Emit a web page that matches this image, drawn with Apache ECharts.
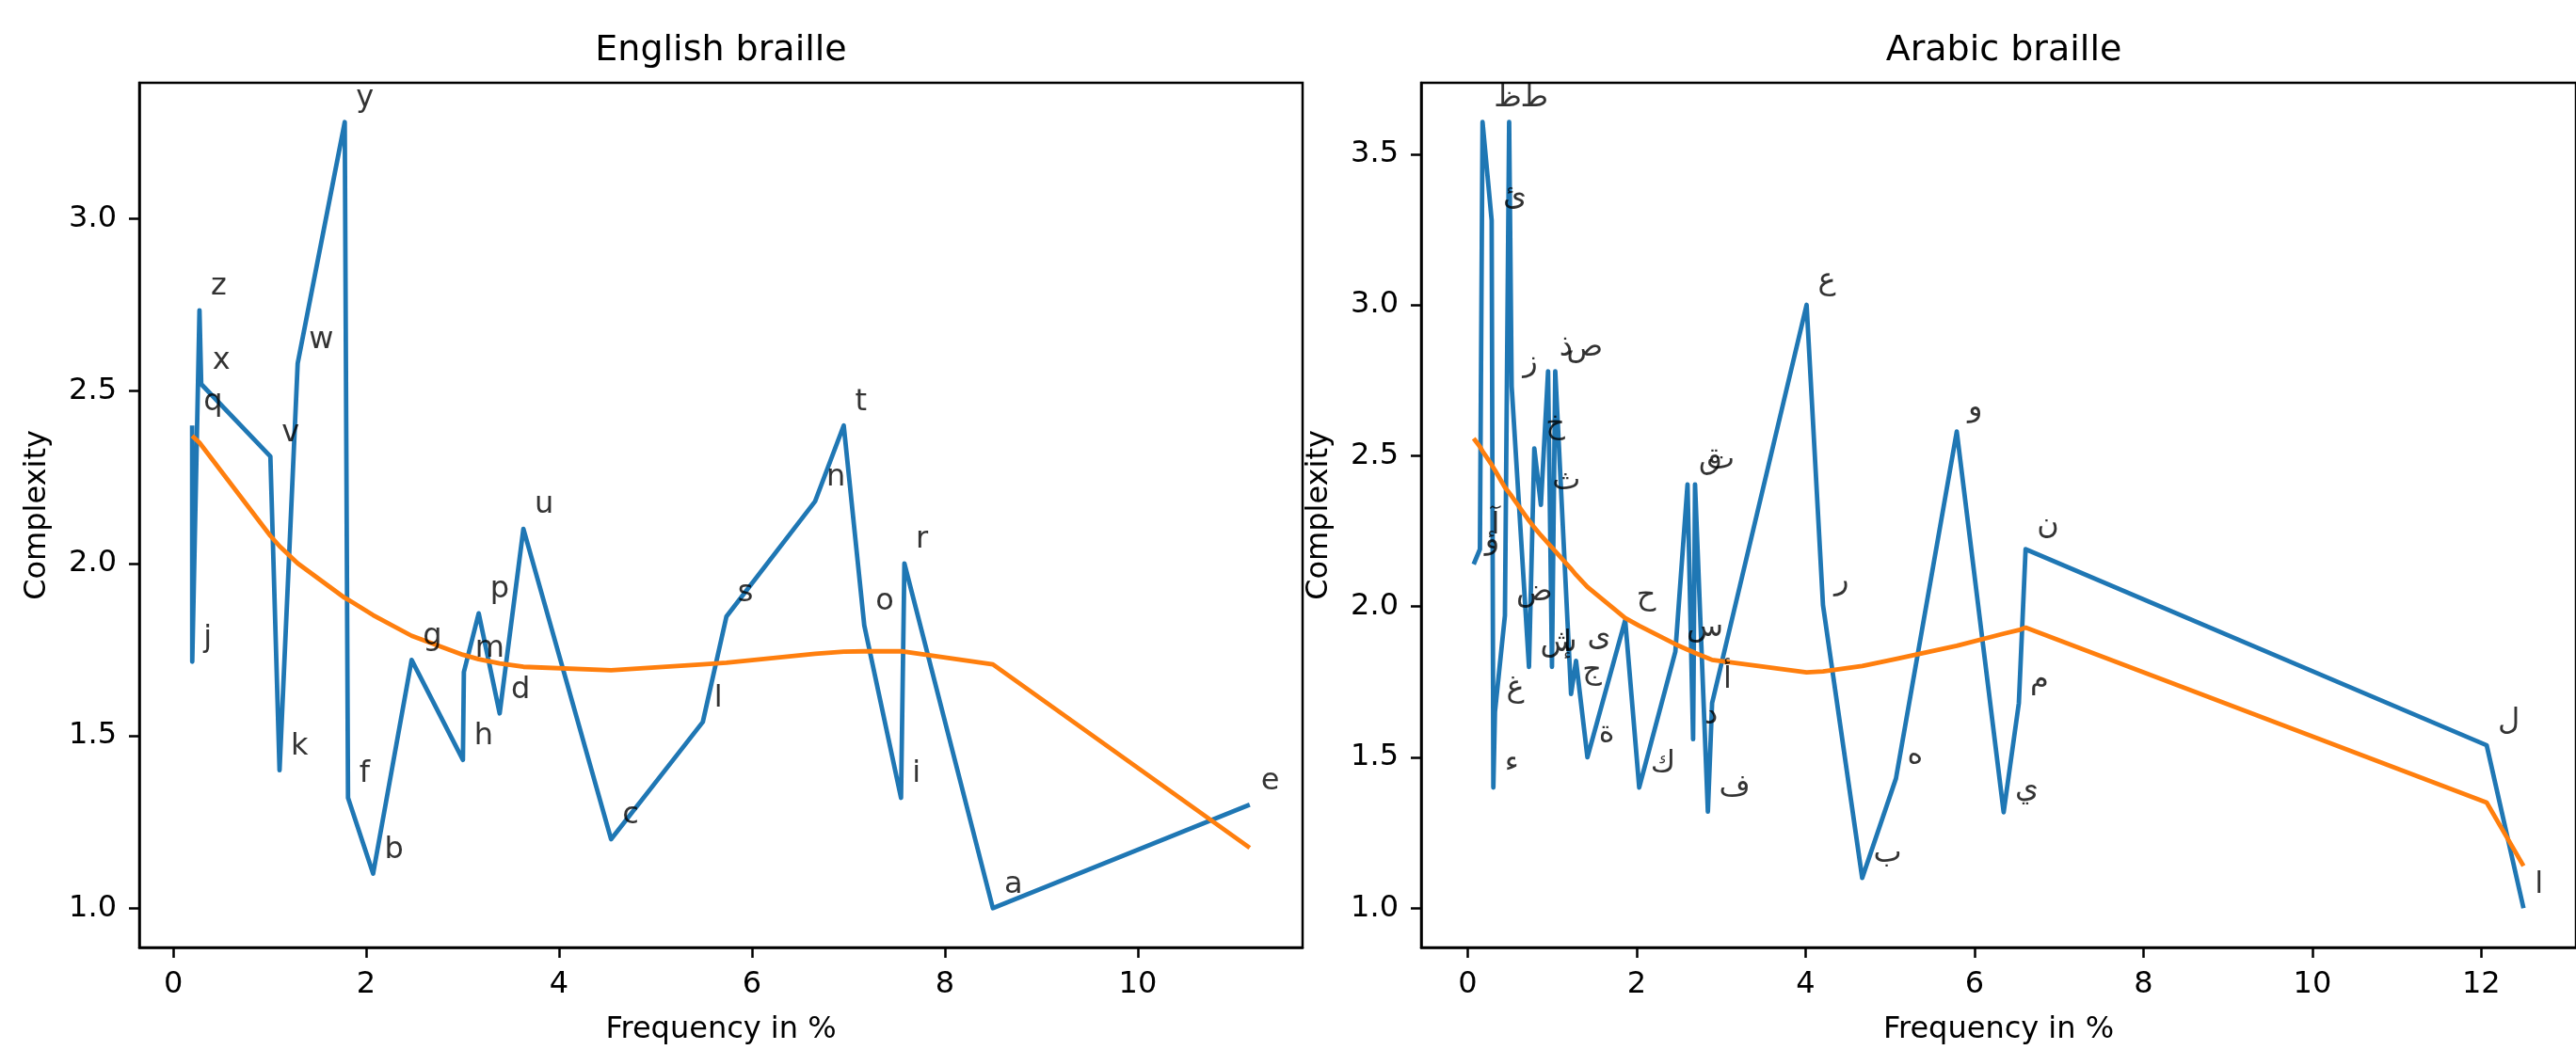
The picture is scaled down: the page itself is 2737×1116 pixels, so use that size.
<!DOCTYPE html>
<html>
<head>
<meta charset="utf-8">
<script src="https://cdn.jsdelivr.net/npm/echarts@6/dist/echarts.min.js"></script>
<style>
  html, body { margin: 0; padding: 0; background: #fff; }
  #chart { width: 2737px; height: 1116px; }
</style>
</head>
<body>
<div id="chart"></div>
<script>
  // English braille: letters sorted by frequency
  const enLetters = ['q', 'j', 'z', 'x', 'v', 'k', 'w', 'y', 'f', 'b', 'g', 'h', 'm', 'p', 'd', 'u', 'c', 'l', 's', 'n', 't', 'o', 'i', 'r', 'a', 'e']
  const enFreq = [0.196, 0.197, 0.272, 0.290, 1.007, 1.102, 1.290, 1.778, 1.812, 2.072, 2.471, 3.003, 3.013, 3.167, 3.384, 3.630, 4.539, 5.490, 5.735, 6.654, 6.951, 7.164, 7.545, 7.580, 8.497, 11.160]
  const enComplexity = [2.40, 1.715, 2.734, 2.52, 2.31, 1.40, 2.58, 3.28, 1.32, 1.10, 1.72, 1.43, 1.685, 1.855, 1.565, 2.10, 1.20, 1.54, 1.846, 2.18, 2.40, 1.82, 1.32, 2.00, 1.00, 1.30]
  const enTrend = [2.37, 2.37, 2.35, 2.345, 2.08, 2.05, 2.00, 1.90, 1.895, 1.85, 1.79, 1.735, 1.734, 1.722, 1.71, 1.70, 1.69, 1.707, 1.712, 1.738, 1.744, 1.745, 1.745, 1.744, 1.707, 1.175]

  // Arabic braille
  const arLetters = ['ؤ', 'آ', 'ظ', 'ئ', 'ء', 'غ', 'ض', 'ط', 'ز', 'ش', 'خ', 'ث', 'ذ', 'إ', 'ص', 'ج', 'ى', 'ة', 'ح', 'ك', 'س', 'ق', 'د', 'ت', 'ف', 'أ', 'ع', 'ر', 'ب', 'ه', 'و', 'ي', 'م', 'ن', 'ل', 'ا']
  const arFreq = [0.07, 0.144, 0.175, 0.283, 0.303, 0.322, 0.44, 0.49, 0.52, 0.725, 0.788, 0.866, 0.951, 0.997, 1.036, 1.223, 1.282, 1.417, 1.864, 2.03, 2.458, 2.602, 2.668, 2.691, 2.843, 2.893, 4.012, 4.206, 4.67, 5.07, 5.79, 6.345, 6.525, 6.605, 12.064, 12.50]
  const arComplexity = [2.14, 2.19, 3.606, 3.28, 1.40, 1.65, 1.97, 3.606, 2.73, 1.80, 2.524, 2.337, 2.78, 1.80, 2.78, 1.71, 1.82, 1.50, 1.955, 1.40, 1.85, 2.405, 1.56, 2.405, 1.32, 1.68, 3.0, 2.005, 1.10, 1.43, 2.58, 1.318, 1.68, 2.19, 1.54, 1.00]
  const arTrend = [2.557, 2.53, 2.515, 2.47, 2.46, 2.452, 2.395, 2.377, 2.366, 2.285, 2.262, 2.236, 2.21, 2.196, 2.183, 2.125, 2.105, 2.065, 1.962, 1.936, 1.875, 1.857, 1.849, 1.846, 1.829, 1.823, 1.782, 1.785, 1.803, 1.826, 1.87, 1.91, 1.922, 1.93, 1.35, 1.14]

  const xTicksEn = [0, 2, 4, 6, 8, 10]
  const xTicksAr = [0, 2, 4, 6, 8, 10, 12]
  const yTicksEn = [1.0, 1.5, 2.0, 2.5, 3.0]
  const yTicksAr = [1.0, 1.5, 2.0, 2.5, 3.0, 3.5]

  const font = 'DejaVu Sans'
  const blue = '#1f77b4'
  const orange = '#ff7f0e'

  function pairs (xs, ys) {
    return xs.map((x, i) => [x, ys[i]])
  }

  function xAxis (gridIndex, min, max, ticks) {
    return {
      type: 'value',
      gridIndex: gridIndex,
      min: min,
      max: max,
      name: 'Frequency in %',
      nameLocation: 'middle',
      nameGap: 72,
      nameTextStyle: { fontSize: 32, color: '#000', fontFamily: font },
      axisLine: { show: true, onZero: false, lineStyle: { color: '#000', width: 2.5 } },
      axisTick: { show: true, length: 11, customValues: ticks, lineStyle: { color: '#000', width: 2.5 } },
      axisLabel: { customValues: ticks, fontSize: 32, color: '#000', fontFamily: font, margin: 24, formatter: v => String(v) },
      splitLine: { show: false }
    }
  }

  function yAxis (gridIndex, min, max, ticks) {
    return {
      type: 'value',
      gridIndex: gridIndex,
      min: min,
      max: max,
      name: 'Complexity',
      nameLocation: 'middle',
      nameRotate: 90,
      nameGap: 92,
      nameTextStyle: { fontSize: 32, color: '#000', fontFamily: font },
      axisLine: { show: true, onZero: false, lineStyle: { color: '#000', width: 2.5 } },
      axisTick: { show: true, length: 11, customValues: ticks, lineStyle: { color: '#000', width: 2.5 } },
      axisLabel: { customValues: ticks, fontSize: 32, color: '#000', fontFamily: font, margin: 24, formatter: v => v.toFixed(1) },
      splitLine: { show: false }
    }
  }

  function lineSeries (idx, data, color, z) {
    return {
      type: 'line',
      xAxisIndex: idx,
      yAxisIndex: idx,
      data: data,
      symbol: 'none',
      showSymbol: false,
      z: z,
      lineStyle: { color: color, width: 4.8, join: 'round' },
      emphasis: { disabled: true },
      silent: true
    }
  }

  function labelSeries (idx, xs, ys, letters) {
    return {
      type: 'scatter',
      xAxisIndex: idx,
      yAxisIndex: idx,
      data: xs.map((x, i) => [x, ys[i], letters[i]]),
      symbolSize: 0,
      itemStyle: { color: 'rgba(0,0,0,0)' },
      z: 10,
      silent: true,
      label: {
        show: true,
        formatter: p => p.data[2],
        position: [12, -25],
        align: 'left',
        verticalAlign: 'middle',
        fontSize: 32,
        color: '#000',
        fontFamily: font
      }
    }
  }

  const chart = echarts.init(document.getElementById('chart'))
  chart.setOption({
    animation: false,
    backgroundColor: '#fff',
    title: [
      { text: 'English braille', left: 766, top: 35, textAlign: 'center', padding: 0,
        textStyle: { fontSize: 38, fontWeight: 'normal', color: '#000', fontFamily: font } },
      { text: 'Arabic braille', left: 2129, top: 35, textAlign: 'center', padding: 0,
        textStyle: { fontSize: 38, fontWeight: 'normal', color: '#000', fontFamily: font } }
    ],
    grid: [
      { left: 148, top: 88, width: 1236, height: 919, show: true, borderColor: '#000', borderWidth: 2.5 },
      { left: 1510, top: 88, width: 1238, height: 919, show: true, borderColor: '#000', borderWidth: 2.5 }
    ],
    xAxis: [
      xAxis(0, -0.352, 11.708, xTicksEn),
      xAxis(1, -0.5515, 13.1215, xTicksAr)
    ],
    yAxis: [
      yAxis(0, 0.886, 3.394, yTicksEn),
      yAxis(1, 0.8697, 3.7363, yTicksAr)
    ],
    series: [
      lineSeries(0, pairs(enFreq, enComplexity), blue, 2),
      lineSeries(0, pairs(enFreq, enTrend), orange, 3),
      labelSeries(0, enFreq, enComplexity, enLetters),
      lineSeries(1, pairs(arFreq, arComplexity), blue, 2),
      lineSeries(1, pairs(arFreq, arTrend), orange, 3),
      labelSeries(1, arFreq, arComplexity, arLetters)
    ]
  })
</script>
</body>
</html>
